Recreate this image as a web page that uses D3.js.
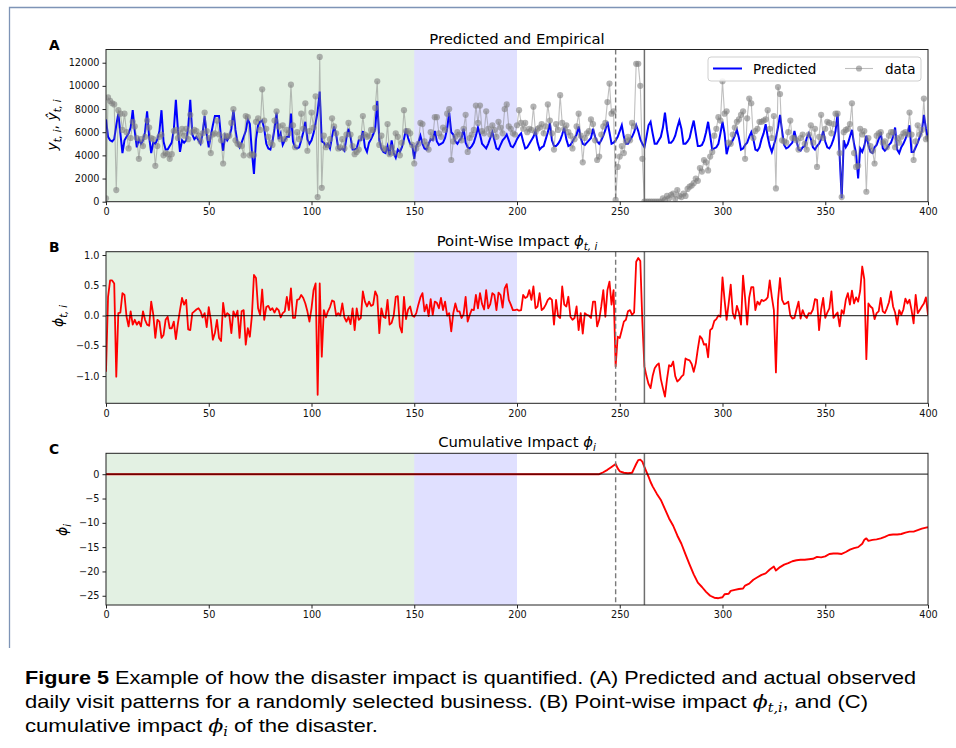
<!DOCTYPE html>
<html>
<head>
<meta charset="utf-8">
<script src="https://cdn.jsdelivr.net/npm/d3@7"></script>
<style>
  body { margin: 0; background: #fff; }
  svg { display: block; font-family: "DejaVu Sans", sans-serif; }
</style>
</head>
<body>
<div id="vis"></div>
<script>
const WIDTH = 956;
const HEIGHT = 748;

// x axis (days)
const xTicks = [0, 50, 100, 150, 200, 250, 300, 350, 400];
const trainEnd = 150;
const validEnd = 200;
const warningDay = 248;
const disasterDay = 262;

// panel A, predicted visits (one value per day, rows of 7 days, t = 0..400)
const predicted = [
  7100, 5600, 5300, 5200, 5400, 6600, 7600,
  5900, 4200, 5300, 5600, 5900, 6400, 7900,
  6100, 4700, 5400, 5000, 5300, 6000, 7800,
  5600, 4200, 5100, 5000, 5400, 6100, 7900,
  5200, 4500, 4500, 4800, 5100, 6200, 8800,
  6200, 4300, 5300, 5100, 5300, 6400, 8800,
  5800, 5400, 5600, 5300, 5000, 5900, 7400,
  5800, 4700, 5700, 6600, 7400, 7400, 7400,
  5500, 4400, 5700, 5300, 5600, 6300, 7900,
  6200, 5100, 4700, 5100, 5600, 6100, 7100,
  6700, 4300, 2400, 5400, 6600, 6900, 7000,
  6300, 5000, 4600, 4500, 5200, 6300, 7700,
  5400, 5900, 4900, 5300, 5600, 5600, 7600,
  5200, 4700, 4600, 4700, 5300, 6000, 6900,
  5400, 5000, 5300, 5900, 6800, 7800, 9500, // 98-104
  5200, 5100, 4800, 5000, 4600, 5600, 6500,
  5800, 4600, 4500, 4600, 4400, 5500, 6300,
  5600, 4500, 4500, 4600, 5300, 5300, 6100,
  4700, 4300, 5100, 5400, 5800, 6300, 8700,
  5300, 4600, 4300, 4200, 4800, 4000, 5300,
  4200, 3800, 4500, 4300, 4700, 5400, 6300,
  5500, 5000, 4900, 3700, 4800, 5100, 5700, // 147-153
  5000, 4600, 4500, 5000, 5400, 5300, 6100,
  5200, 4900, 5000, 5100, 5500, 6300, 7700,
  6000, 5800, 5200, 5000, 5300, 5500, 6300,
  5100, 4700, 4600, 4800, 5100, 5700, 6400,
  5800, 5000, 4800, 4600, 5000, 5500, 6000,
  5300, 4600, 4500, 4900, 5300, 5500, 5800,
  5300, 4800, 4700, 5000, 5400, 5700, 5900, // 196-202
  5200, 4600, 4700, 5000, 5300, 5600, 6100,
  5100, 4500, 4700, 4800, 5400, 6000, 6800,
  5300, 4800, 4800, 5000, 5300, 5800, 6400,
  5400, 4800, 4900, 5200, 5500, 5800, 6500,
  5500, 5000, 4900, 5100, 5300, 5500, 6300,
  5600, 5200, 5000, 5300, 5700, 6200, 6900,
  6000, 5000, 5100, 5300, 5600, 6100, 6600, // 245-251
  5600, 5000, 5000, 5300, 5600, 6000, 6600,
  6100, 5400, 5000, 4700, 5600, 6600, 6900,
  5900, 5000, 5000, 5300, 5600, 6400, 7700,
  6200, 5100, 5100, 5300, 5700, 6400, 7000,
  6300, 5000, 5000, 5200, 5500, 6300, 7000,
  5900, 4800, 4800, 4900, 5300, 6000, 6900,
  5700, 4500, 4600, 4700, 5000, 5900, 6900, // 294-300
  5900, 4100, 4800, 5000, 5300, 5700, 6200,
  5500, 4500, 4600, 4900, 5100, 5600, 6000,
  5400, 4500, 4400, 4700, 5400, 5900, 6700,
  5600, 4800, 4300, 4900, 5500, 6400, 7500,
  6100, 4900, 4600, 4700, 4900, 5100, 6100,
  5300, 4500, 4400, 4700, 4800, 5500, 5900,
  5400, 4700, 4500, 4800, 5000, 5400, 6100, // 343-349
  5200, 4700, 4600, 4900, 5400, 6100, 7600,
  4000, 300, 5300, 4700, 5000, 5600, 6200,
  5000, 4200, 2000, 4600, 4300, 4800, 5700,
  4900, 4300, 4200, 4700, 4900, 5400, 6000,
  4600, 4400, 4600, 4900, 5100, 5600, 6400,
  4500, 4200, 4700, 5000, 5400, 5900, 6600,
  4300, 4300, 4700, 5100, 5600, 6100, 7500, // 392-398
  6300, 5400
];

// panel A, observed visits
const observed = [
  300, 9000, 8700, 8500, 8400, 1000, 7900,
  7600, 6200, 7600, 6000, 4600, 5500, 6900,
  6500, 5500, 3700, 5400, 4800, 5600, 7000,
  6400, 5500, 5400, 3100, 4800, 5600, 5800,
  4000, 4200, 4100, 3700, 4100, 6100, 6200,
  5500, 5900, 6300, 5700, 6300, 5400, 7500,
  6000, 6200, 6100, 5700, 5200, 5900, 7700,
  6100, 5500, 4200, 5800, 5900, 7000, 5800,
  5300, 3300, 5700, 5600, 5700, 6800, 8000,
  5300, 5000, 4900, 4800, 4000, 7400, 7300,
  4000, 4100, 4000, 6900, 7200, 6200, 9700,
  7000, 6300, 5600, 5100, 4900, 7000, 7800,
  6500, 5400, 6600, 5400, 6200, 5900, 10100,
  6600, 4700, 6000, 5400, 7600, 6300, 8500,
  4400, 6100, 7700, 6400, 9100, 400, 12500, // 98-104
  1200, 5700, 4700, 4900, 5400, 7200, 6500,
  5900, 4600, 4700, 5400, 4600, 5800, 6800,
  5800, 4800, 4100, 4300, 4500, 5500, 7400,
  5800, 5600, 5700, 6200, 6200, 8100, 10400,
  4900, 5700, 4600, 4500, 6700, 4100, 4700,
  4200, 5900, 5600, 4000, 5100, 7900, 6100,
  6100, 5900, 4900, 3300, 4600, 5000, 6800, // 147-153
  6700, 5200, 4900, 4500, 6000, 5500, 7300,
  7300, 5900, 5600, 6400, 6200, 7600, 8000,
  3600, 5200, 5600, 6000, 5800, 5300, 6300,
  7500, 4300, 5500, 5800, 6200, 8300, 6800,
  8300, 6100, 5900, 7800, 6300, 5800, 6600,
  6200, 5600, 6900, 6400, 5900, 8000, 8400,
  6500, 6300, 5900, 5800, 6600, 7900, 6800, // 196-202
  6300, 6800, 6000, 6300, 6200, 8200, 6000,
  6300, 6400, 6700, 5900, 6500, 8400, 7000,
  5900, 4500, 6700, 6200, 9200, 6800, 6300,
  6600, 6000, 5700, 4600, 5400, 6500, 7600,
  5700, 3400, 5500, 5900, 6100, 7100, 6700,
  5300, 3600, 3900, 5800, 6500, 6800, 8600,
  10200, 7600, 7800, 150, 3000, 3900, 4800, // 245-251
  4200, 5200, 5600, 5300, 6800, 6500, 11900,
  11900, 10000, 3700, 0, 0, 0, 0,
  0, 0, 0, 0, 0, 300, 150,
  500, 300, 600, 700, 250, 1000, 500,
  400, 700, 500, 1100, 1300, 1400, 1600,
  2000, 1800, 2900, 2600, 3600, 3400, 2700,
  3900, 4300, 5700, 6300, 7300, 7000, 10400, // 294-300
  7600, 7800, 5100, 5000, 5800, 6400, 6900,
  7100, 7500, 7800, 3700, 7200, 8900, 8500,
  5500, 6100, 6300, 6900, 6900, 7000, 7100,
  7900, 6300, 5500, 7400, 1150, 9900, 9300,
  5300, 5200, 5100, 6000, 7000, 5500, 5500,
  5300, 4500, 5500, 5800, 5000, 4500, 5800,
  6600, 5100, 6300, 3000, 5600, 7500, 5500, // 343-349
  6300, 6900, 6800, 5900, 6700, 7600, 7600,
  4200, 400, 6000, 6200, 6300, 6700, 8500,
  4200, 3000, 3100, 6300, 5800, 6100, 860,
  5500, 4800, 4400, 3300, 5700, 5900, 6000,
  5100, 5200, 4700, 5700, 6000, 6000, 4700,
  5500, 5100, 5600, 5900, 6000, 5800, 7700,
  5800, 3600, 5200, 6600, 5800, 6200, 8900, // 392-398
  5400, 5500
];

// panel B, point-wise impact
const pointImpact = [
  -0.93, 0.31, 0.58, 0.58, 0.53, -1.01, 0.04,
  0.05, 0.37, 0.34, -0.02, -0.18, 0.07, -0.15,
  -0.07, -0.15, -0.10, -0.18, 0.07, -0.07, -0.15,
  -0.17, 0.23, 0.02, -0.37, -0.07, -0.10, -0.37,
  -0.32, -0.07, -0.02, -0.21, -0.21, -0.10, -0.39,
  -0.13, 0.09, 0.29, 0.18, 0.26, -0.23, -0.24,
  0.04, 0.07, 0.10, 0.12, 0.07, -0.03, 0.04,
  -0.19, 0.14, -0.07, -0.40, -0.29, -0.07, -0.37,
  -0.42, 0.21, -0.02, 0.04, 0.01, -0.29, 0.07,
  -0.02, 0.08, -0.37, 0.07, 0.09, -0.48, -0.21,
  -0.35, 0.00, 0.67, 0.62, 0.12, 0.01, 0.43,
  -0.07, 0.14, 0.16, 0.09, 0.12, 0.05, 0.12,
  0.09, -0.03, 0.04, 0.07, 0.31, 0.09, 0.45,
  -0.04, -0.04, 0.26, 0.27, 0.34, 0.29, 0.20,
  0.07, -0.10, 0.12, 0.42, 0.53, -1.31, 0.53, // 98-104
  -0.68, 0.09, -0.03, 0.07, 0.14, 0.25, 0.23,
  0.00, 0.04, 0.00, 0.20, -0.03, -0.10, -0.02,
  -0.14, 0.12, -0.24, 0.12, -0.07, -0.04, 0.40,
  0.23, 0.15, 0.23, 0.16, 0.18, 0.40, 0.32,
  -0.29, 0.12, -0.02, -0.04, 0.26, -0.15, -0.12,
  0.00, 0.31, 0.32, -0.18, -0.28, 0.31, -0.06,
  0.10, 0.15, 0.00, -0.02, 0.04, 0.18, 0.30, // 147-153
  0.37, 0.07, 0.18, -0.01, 0.27, 0.01, 0.23,
  0.21, 0.12, 0.29, 0.09, 0.23, 0.00, 0.04,
  -0.26, 0.04, 0.20, 0.07, 0.07, -0.04, 0.02,
  0.31, -0.10, 0.01, 0.10, 0.09, 0.34, 0.12,
  0.37, 0.19, 0.10, 0.42, 0.12, 0.19, 0.37,
  0.34, 0.09, 0.38, 0.34, 0.13, 0.45, 0.52,
  0.26, 0.18, 0.09, 0.09, 0.10, 0.08, 0.09, // 196-202
  0.34, 0.29, 0.31, 0.42, 0.26, 0.48, 0.12,
  0.15, 0.37, 0.09, 0.12, 0.18, 0.26, 0.29,
  0.26, -0.15, 0.26, -0.01, -0.04, 0.48, 0.18,
  0.15, 0.31, -0.02, -0.07, -0.04, 0.15, -0.24,
  0.04, -0.30, 0.04, 0.01, 0.00, -0.04, 0.23,
  0.23, -0.18, -0.07, 0.15, 0.42, -0.02, 0.42,
  0.56, 0.18, 0.42, -0.84, -0.35, -0.37, -0.24, // 245-251
  -0.10, -0.07, 0.07, 0.09, 0.01, 0.05, 0.89,
  0.95, 0.90, -0.10, -0.84, -1.00, -1.13, -1.20,
  -1.00, -0.87, -0.82, -0.79, -1.05, -1.20, -1.34,
  -1.05, -0.82, -0.84, -0.76, -1.00, -1.09, -1.06,
  -1.01, -0.98, -0.71, -0.73, -0.74, -0.80, -0.93,
  -0.79, -0.55, -0.34, -0.38, -0.48, -0.47, -0.69,
  -0.24, -0.21, -0.09, -0.06, 0.00, -0.02, 0.63, // 294-300
  0.26, -0.07, 0.20, 0.51, 0.04, -0.05, 0.16,
  0.05, -0.15, 0.66, 0.29, -0.15, 0.30, 0.47,
  0.47, 0.09, 0.23, 0.18, 0.26, 0.24, 0.26,
  0.30, 0.58, 0.31, 0.09, -0.94, 0.25, 0.62,
  0.26, 0.19, 0.20, 0.23, 0.00, -0.05, -0.04,
  0.10, 0.23, -0.05, 0.09, 0.00, -0.04, 0.04,
  0.03, 0.10, 0.27, 0.26, -0.24, 0.10, 0.29, // 343-349
  -0.04, 0.05, 0.12, 0.40, -0.04, 0.01, 0.05,
  -0.18, 0.09, 0.03, 0.26, 0.37, 0.18, 0.41,
  0.20, 0.30, 0.23, 0.41, 0.81, 0.60, -0.72,
  0.20, 0.15, 0.12, -0.06, 0.04, 0.07, 0.29,
  0.07, 0.04, 0.12, 0.22, 0.40, 0.15, 0.05,
  -0.15, 0.09, 0.01, 0.10, 0.28, 0.20, 0.26,
  0.09, -0.13, 0.34, 0.04, 0.09, 0.15, 0.20, // 392-398
  0.30, 0.01
];

// panel C, cumulative impact (read at these days)
const cumDays = [
  0, 240, 242, 244, 246, 248, 249, 250, 252, 254, 256, 257, 258, 259, 260,
  261, 262, 263, 264, 265, 266, 268, 270, 272, 274, 276, 278, 280, 282, 284,
  286, 288, 290, 292, 294, 296, 298, 300, 301, 303, 304, 306, 308, 310, 311,
  313, 315, 317, 319, 321, 323, 325, 326, 328, 330, 332, 334, 336, 338, 340,
  342, 344, 346, 348, 350, 352, 354, 356, 358, 360, 362, 364, 366, 368, 369,
  370, 371, 373, 375, 377, 379, 381, 383, 385, 387, 389, 391, 393, 395, 397,
  399, 400
];
const cumImpact = [
  0, 0, 0.4, 0.9, 1.5, 2.1, 1.2, 0.6, 0.3, 0.2, 0.3, 1.2, 2.1, 2.9, 3.0,
  2.6, 1.5, 0.5, -0.5, -1.6, -2.5, -4.0, -5.3, -7.2, -9.1, -10.6, -12.6, -14.3, -16.5, -18.6,
  -20.6, -22.3, -23.2, -24.2, -25.0, -25.4, -25.5, -25.3, -24.7, -24.6, -24.0, -23.8, -23.6, -23.5, -22.9,
  -22.5, -21.7, -21.2, -20.7, -20.4, -19.6, -19.0, -19.8, -19.1, -18.6, -18.3, -17.9, -17.7, -17.6, -17.6,
  -17.5, -17.4, -17.0, -17.1, -16.9, -16.4, -16.3, -16.3, -16.4, -16.0, -15.5, -15.2, -15.0, -14.3, -13.5,
  -13.2, -13.7, -13.5, -13.4, -13.2, -12.9, -12.5, -12.4, -12.4, -12.3, -12.0, -11.8, -11.8, -11.5, -11.2,
  -11.0, -10.9
];

const ticksA = [0, 2000, 4000, 6000, 8000, 10000, 12000];
const ticksB = [-1.0, -0.5, 0.0, 0.5, 1.0];
const ticksC = [-25, -20, -15, -10, -5, 0];

const captionLines = [
  "Example of how the disaster impact is quantified. (A) Predicted and actual observed",
  "daily visit patterns for a randomly selected business. (B) Point-wise impact ",
  "cumulative impact "
];

let svg = d3
  .select("#vis")
  .append("svg")
  .attr("width", WIDTH)
  .attr("height", HEIGHT);

const xScale = d3.scaleLinear().domain([0, 400]).range([106, 928]);

const panels = [
  { letter: "A", top: 49.5, bottom: 201.7, domain: [0, 13140], ticks: ticksA, fmt: d3.format("d") },
  { letter: "B", top: 251.7, bottom: 403.3, domain: [-1.45, 1.055], ticks: ticksB, fmt: d3.format(".1f") },
  { letter: "C", top: 453.3, bottom: 605, domain: [-26.9, 4.3], ticks: ticksC, fmt: d3.format("d") },
];

panels.forEach((p) => {
  p.y = d3.scaleLinear().domain(p.domain).range([p.bottom, p.top]);
  p.g = svg.append("g").attr("class", "panel-" + p.letter);

  // clip
  svg.append("clipPath").attr("id", "clip" + p.letter)
    .append("rect")
    .attr("x", xScale(0)).attr("y", p.top)
    .attr("width", xScale(400) - xScale(0)).attr("height", p.bottom - p.top);

  // training / validation windows
  p.g.append("rect")
    .attr("x", xScale(0)).attr("y", p.top)
    .attr("width", xScale(trainEnd) - xScale(0)).attr("height", p.bottom - p.top)
    .attr("fill", "green").attr("fill-opacity", 0.11);
  p.g.append("rect")
    .attr("x", xScale(trainEnd)).attr("y", p.top)
    .attr("width", xScale(validEnd) - xScale(trainEnd)).attr("height", p.bottom - p.top)
    .attr("fill", "blue").attr("fill-opacity", 0.12);

  p.plot = p.g.append("g").attr("clip-path", `url(#clip${p.letter})`);
});

// ---- panel A
let pA = panels[0];
const lineA = d3.line().x((d, i) => xScale(i)).y((d) => pA.y(d));

pA.plot.append("path")
  .datum(predicted)
  .attr("d", lineA)
  .attr("fill", "none")
  .attr("stroke", "#0000ff")
  .attr("stroke-width", 2);

pA.plot.append("path")
  .datum(observed)
  .attr("d", lineA)
  .attr("fill", "none")
  .attr("stroke", "#808080")
  .attr("stroke-opacity", 0.5)
  .attr("stroke-width", 1.1);

pA.plot.append("g")
  .selectAll("circle")
  .data(observed)
  .enter()
  .append("circle")
  .attr("cx", (d, i) => xScale(i))
  .attr("cy", (d) => pA.y(d))
  .attr("r", 3.1)
  .attr("fill", "#808080")
  .attr("fill-opacity", 0.6);

// ---- panel B
let pB = panels[1];
pB.plot.append("path")
  .datum(pointImpact)
  .attr("d", d3.line().x((d, i) => xScale(i)).y((d) => pB.y(d)))
  .attr("fill", "none")
  .attr("stroke", "#ff0000")
  .attr("stroke-width", 1.8)
  .attr("stroke-linejoin", "round");

// ---- panel C
let pC = panels[2];
pC.plot.append("path")
  .datum(cumImpact)
  .attr("d", d3.line().x((d, i) => xScale(cumDays[i])).y((d) => pC.y(d)))
  .attr("fill", "none")
  .attr("stroke", "#ff0000")
  .attr("stroke-width", 1.9)
  .attr("stroke-linejoin", "round");

// zero lines
[pB, pC].forEach((p) => {
  p.plot.append("line")
    .attr("x1", xScale(0)).attr("x2", xScale(400))
    .attr("y1", p.y(0)).attr("y2", p.y(0))
    .attr("stroke", "#000").attr("stroke-opacity", 0.75).attr("stroke-width", 1.2);
});

// event lines, frame, axes
panels.forEach((p) => {
  p.g.append("line")
    .attr("x1", xScale(warningDay)).attr("x2", xScale(warningDay))
    .attr("y1", p.top).attr("y2", p.bottom)
    .attr("stroke", "#7a7a7a").attr("stroke-width", 1.4)
    .attr("stroke-dasharray", "5,3");
  p.g.append("line")
    .attr("x1", xScale(disasterDay)).attr("x2", xScale(disasterDay))
    .attr("y1", p.top).attr("y2", p.bottom)
    .attr("stroke", "#6e6e6e").attr("stroke-width", 1.5);

  p.g.append("rect")
    .attr("x", xScale(0)).attr("y", p.top)
    .attr("width", xScale(400) - xScale(0)).attr("height", p.bottom - p.top)
    .attr("fill", "none").attr("stroke", "#222").attr("stroke-width", 1);

  let ax = p.g.append("g")
    .attr("transform", `translate(0, ${p.bottom})`)
    .call(d3.axisBottom(xScale).tickValues(xTicks).tickSize(3.5).tickPadding(3).tickSizeOuter(0));
  let ay = p.g.append("g")
    .attr("transform", `translate(${xScale(0)},0)`)
    .call(d3.axisLeft(p.y).tickValues(p.ticks).tickFormat(p.fmt).tickSize(3.5).tickPadding(3).tickSizeOuter(0));
  [ax, ay].forEach((a) => {
    a.select(".domain").remove();
    a.selectAll("line").attr("stroke", "#222");
    a.selectAll("text")
      .attr("fill", "#111")
      .style("font-family", "'DejaVu Sans', sans-serif")
      .style("font-size", "9.7px");
  });

  svg.append("text")
    .attr("x", 49).attr("y", p.top + 0.5)
    .style("font-family", "'DejaVu Sans', sans-serif")
    .style("font-weight", "bold")
    .style("font-size", "13.8px")
    .text(p.letter);
});

// math text helper: parts are [text, kind] with kind "" | "it" | "sub"
function mathText(sel, parts, size) {
  let shifted = false;
  parts.forEach(([t, kind]) => {
    let ts = sel.append("tspan").text(t);
    if (kind === "it" || kind === "sub") ts.style("font-style", "italic");
    if (kind === "sub") {
      ts.style("font-size", size * 0.7 + "px");
      if (!shifted) { ts.attr("dy", size * 0.28); shifted = true; }
    } else if (shifted) {
      ts.attr("dy", -size * 0.28);
      shifted = false;
    }
  });
}

// titles
const titleSize = 14.8;
let t1 = svg.append("text").attr("x", 517).attr("y", 43.5).attr("text-anchor", "middle")
  .style("font-size", titleSize + "px");
mathText(t1, [["Predicted and Empirical", ""]], titleSize);
let t2 = svg.append("text").attr("x", 517).attr("y", 246).attr("text-anchor", "middle")
  .style("font-size", titleSize + "px");
mathText(t2, [["Point-Wise Impact ", ""], ["ϕ", "it"], ["t, i", "sub"]], titleSize);
let t3 = svg.append("text").attr("x", 517).attr("y", 447).attr("text-anchor", "middle")
  .style("font-size", titleSize + "px");
mathText(t3, [["Cumulative Impact ", ""], ["ϕ", "it"], ["i", "sub"]], titleSize);

// y labels
const labSize = 14;
let yl1 = svg.append("text")
  .attr("transform", "translate(57,125) rotate(-90)")
  .attr("text-anchor", "middle").style("font-size", labSize + "px");
mathText(yl1, [["y", "it"], ["t, i", "sub"], [", ", ""], ["ŷ", "it"], ["t, i", "sub"]], labSize);
let yl2 = svg.append("text")
  .attr("transform", "translate(63,316) rotate(-90)")
  .attr("text-anchor", "middle").style("font-size", labSize + "px");
mathText(yl2, [["ϕ", "it"], ["t, i", "sub"]], labSize);
let yl3 = svg.append("text")
  .attr("transform", "translate(67,530) rotate(-90)")
  .attr("text-anchor", "middle").style("font-size", labSize + "px");
mathText(yl3, [["ϕ", "it"], ["i", "sub"]], labSize);

// legend
let legend = svg.append("g");
legend.append("rect")
  .attr("x", 708).attr("y", 57).attr("width", 213).attr("height", 24).attr("rx", 3)
  .attr("fill", "#fff").attr("fill-opacity", 0.85)
  .attr("stroke", "#cfcfcf").attr("stroke-width", 1);
legend.append("line")
  .attr("x1", 713).attr("x2", 742).attr("y1", 68.5).attr("y2", 68.5)
  .attr("stroke", "#0000ff").attr("stroke-width", 2);
legend.append("text").attr("x", 753).attr("y", 73.5).style("font-size", "13.5px").text("Predicted");
legend.append("line")
  .attr("x1", 845).attr("x2", 873).attr("y1", 68.5).attr("y2", 68.5)
  .attr("stroke", "#808080").attr("stroke-opacity", 0.5).attr("stroke-width", 1.1);
legend.append("circle")
  .attr("cx", 859).attr("cy", 68.5).attr("r", 3.1)
  .attr("fill", "#808080").attr("fill-opacity", 0.6);
legend.append("text").attr("x", 885).attr("y", 73.5).style("font-size", "13.5px").text("data");

// page frame
svg.append("path")
  .attr("d", "M9.5,648 V7.5 H956")
  .attr("fill", "none")
  .attr("stroke", "#7e94b6")
  .attr("stroke-width", 1.3);

// caption
const capFont = "'Liberation Sans', 'DejaVu Sans', sans-serif";
const capSize = 18.5;
let c1 = svg.append("text").attr("x", 25).attr("y", 684)
  .attr("textLength", 891).attr("lengthAdjust", "spacingAndGlyphs")
  .style("font-family", capFont).style("font-size", capSize + "px");
c1.append("tspan").style("font-weight", "bold").text("Figure 5");
c1.append("tspan").text(" " + captionLines[0]);

let c2 = svg.append("text").attr("x", 25).attr("y", 708)
  .attr("textLength", 843).attr("lengthAdjust", "spacingAndGlyphs")
  .style("font-family", capFont).style("font-size", capSize + "px");
c2.append("tspan").text(captionLines[1]);
c2.append("tspan").style("font-family", "'DejaVu Serif', serif").style("font-style", "italic").text("ϕ");
c2.append("tspan").style("font-family", "'DejaVu Serif', serif").style("font-style", "italic")
  .style("font-size", "12px").attr("dy", 4).text("t,i");
c2.append("tspan").attr("dy", -4).text(", and (C)");

let c3 = svg.append("text").attr("x", 25).attr("y", 732)
  .attr("textLength", 353).attr("lengthAdjust", "spacingAndGlyphs")
  .style("font-family", capFont).style("font-size", capSize + "px");
c3.append("tspan").text(captionLines[2]);
c3.append("tspan").style("font-family", "'DejaVu Serif', serif").style("font-style", "italic").text("ϕ");
c3.append("tspan").style("font-family", "'DejaVu Serif', serif").style("font-style", "italic")
  .style("font-size", "12px").attr("dy", 4).text("i");
c3.append("tspan").attr("dy", -4).text(" of the disaster.");
</script>
</body>
</html>
